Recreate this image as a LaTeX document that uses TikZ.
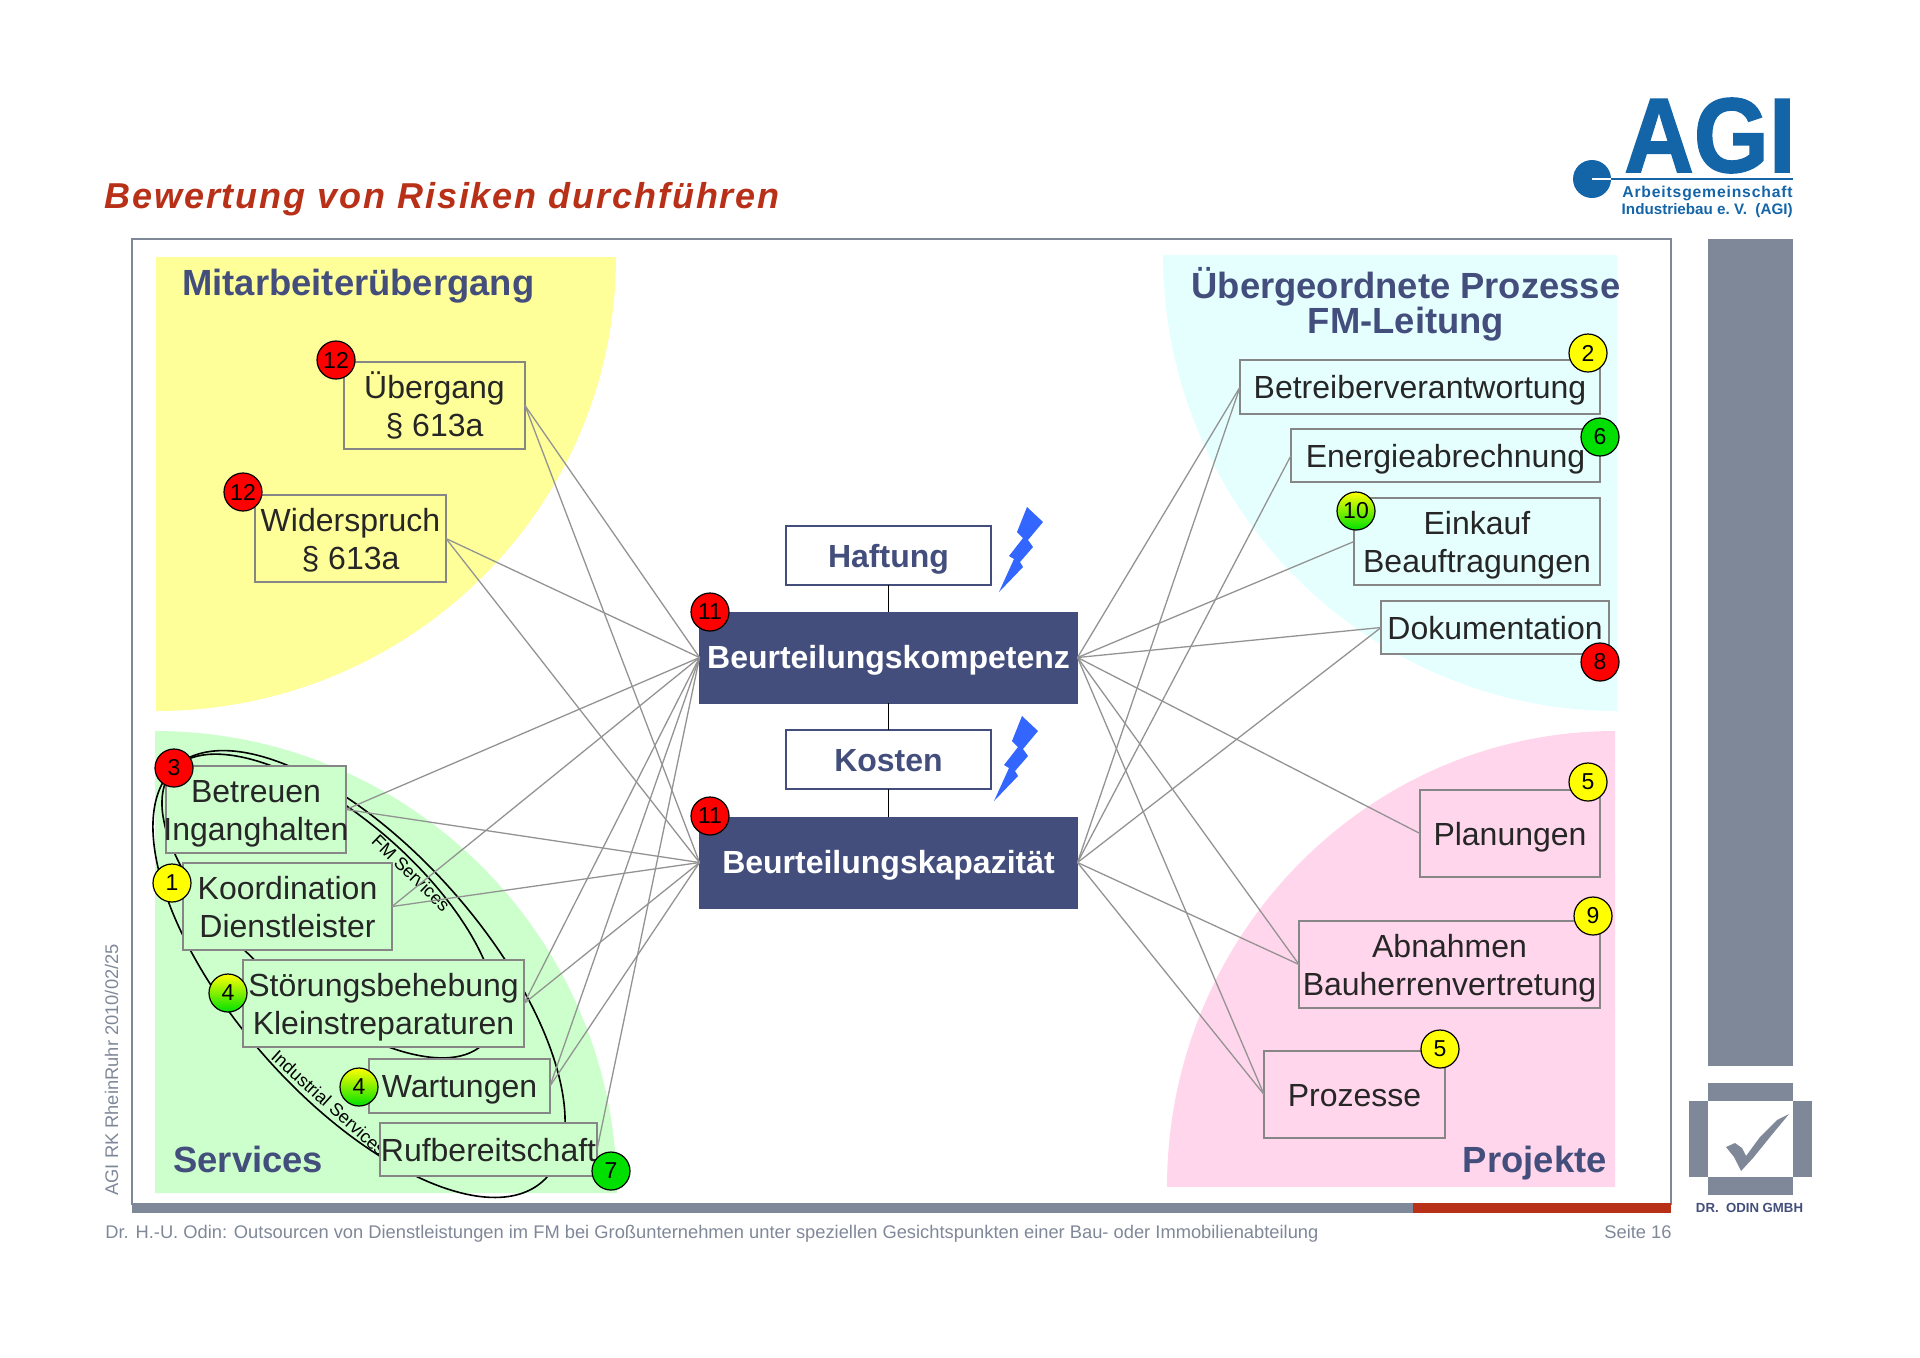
\documentclass[tikz,border=0pt]{standalone}
\usepackage{fontspec}
\setmainfont{Liberation Sans}
\newfontfamily\spacedfont[LetterSpace=5.3]{Liberation Sans}
\newfontfamily\agifont[FakeBold=1.5]{Liberation Sans Bold}
\usepackage{xcolor}
\usetikzlibrary{positioning,shapes.geometric}
\definecolor{navy}{HTML}{434E7C}
\definecolor{slate}{HTML}{7F8898}
\definecolor{agiblue}{HTML}{1464A8}
\definecolor{titlered}{HTML}{B83018}
\definecolor{blitzblue}{HTML}{3366FF}
\definecolor{areayellow}{HTML}{FFFF99}
\definecolor{areacyan}{HTML}{E5FFFF}
\definecolor{areagreen}{HTML}{CCFFCC}
\definecolor{areapink}{HTML}{FFD6EB}
\definecolor{signalred}{HTML}{FF0000}
\definecolor{signalyellow}{HTML}{FFFF00}
\definecolor{signalgreen}{HTML}{00E000}
\newcommand{\blitz}[1]{\fill[blitzblue,shift={#1}] (1027,507) -- (1043,522) -- (1028,540) -- (1033,547) -- (1020,562) -- (1023,567) -- (999,592) -- (1014,559) -- (1009,556) -- (1023,538) -- (1017,532) -- cycle;}

\begin{document}
\begin{tikzpicture}[
  x=0.5pt, y=-0.5pt,
  box/.style={draw=gray!95,line width=1pt,outer sep=0pt,inner sep=0pt,align=center,text=black!85,text height=14pt,text depth=2.5pt,font=\fontsize{16}{19}\selectfont},
  twolines/.style={box,text height=33pt,minimum height=43.5pt},
  hazard/.style={draw=navy,line width=1pt,fill=white,outer sep=0pt,minimum width=102.5pt,minimum height=29.5pt,inner sep=0pt,text=navy,text height=14pt,text depth=2.5pt,font=\fontsize{16}{19}\selectfont\bfseries},
  ability/.style={draw=navy,fill=navy,outer sep=0pt,minimum width=189pt,minimum height=45.5pt,inner sep=0pt,text=white,text height=13.5pt,text depth=3pt,font=\fontsize{16}{19}\selectfont\bfseries},
  head/.style={anchor=base west,inner sep=0pt,text=navy,font=\fontsize{18.2}{18}\selectfont\bfseries},
  badge/.style={circle,draw=black,line width=.6pt,minimum size=19pt,inner sep=0pt,text=black,font=\fontsize{11.5}{12}\selectfont},
  rbadge/.style={badge,fill=signalred},
  ybadge/.style={badge,fill=signalyellow},
  gbadge/.style={badge,fill=signalgreen},
  mbadge/.style={badge,top color=signalyellow,bottom color=signalgreen},
  link/.style={draw=gray!85,line width=.65pt},
  tie/.style={draw=black,line width=.7pt},
  scopeline/.style={ellipse,draw=black,line width=.8pt,inner sep=0pt},
  scopetext/.style={inner sep=0pt,font=\fontsize{9}{10}\selectfont},
  slab/.style={fill=slate,draw=none,inner sep=0pt,outer sep=0pt},
  small/.style={inner sep=0pt,text=slate,font=\fontsize{9.16}{10}\selectfont}
]
\useasboundingbox (0,0) rectangle (1920,1357);
% frame
\draw[slate,line width=1pt] (132,239) rectangle (1671,1204);
\fill[slate] (132,1203) rectangle (1413,1213);
\fill[titlered] (1413,1203) rectangle (1671,1213);
% quarter discs
\fill[areayellow] (156,257) -- (616,257) arc[start angle=0,end angle=-90,x radius=230pt,y radius=227pt] -- cycle;
\fill[areacyan] (1617,255) -- (1163,255) arc[start angle=180,end angle=270,x radius=227pt,y radius=228pt] -- cycle;
\fill[areagreen] (155,1193) -- (155,731) arc[start angle=90,end angle=0,radius=231pt] -- cycle;
\fill[areapink] (1615,1187) -- (1167,1187) arc[start angle=180,end angle=90,x radius=224pt,y radius=228pt] -- cycle;
% service groups
\node[scopeline,minimum width=277pt,minimum height=125pt,rotate=-48.5] (industrial) at (359,974) {};
\node[scopeline,minimum width=207pt,minimum height=90pt,rotate=-41] (fm) at (329,906) {};
\node[scopetext,rotate=-44] (fmtext) at (411,873) {FM Services};
\node[scopetext,rotate=-42] (indtext) at (329,1103) {Industrial Services};
% left boxes
\node[twolines,fill=areayellow,minimum width=90.5pt] (uebergang) at (434.5,405.5) {Übergang\\§ 613a};
\node[twolines,fill=areayellow,minimum width=95.5pt] (widerspruch) at (350.5,538.5) {Widerspruch\\§ 613a};
\node[twolines,fill=areagreen,minimum width=90pt] (betreuen) at (256,809.5) {Betreuen\\\makebox[0pt]{Inganghalten}};
\node[twolines,fill=areagreen,minimum width=104.5pt] (koordination) at (287.5,906.5) {Koordination\\Dienstleister};
\node[twolines,fill=areagreen,minimum width=140.5pt] (stoerung) at (383.5,1003.5) {Störungsbehebung\\Kleinstreparaturen};
\node[box,fill=areagreen,minimum width=90.5pt,minimum height=27pt] (wartungen) at (459.5,1086) {Wartungen};
\node[box,fill=areagreen,minimum width=108.5pt,minimum height=26.5pt] (rufbereitschaft) at (488.5,1149.5) {Rufbereitschaft};
% right boxes
\node[box,fill=areacyan,minimum width=180pt,minimum height=27pt] (betreiber) at (1420,387) {Betreiberverantwortung};
\node[box,fill=areacyan,minimum width=154.5pt,minimum height=26.5pt,below=7.5pt of betreiber.south east,anchor=north east] (energie) {Energieabrechnung};
\node[twolines,fill=areacyan,minimum width=123pt,below=8pt of energie.south east,anchor=north east] (einkauf) {Einkauf\\Beauftragungen};
\node[box,fill=areacyan,minimum width=114pt,minimum height=26.5pt] (dokumentation) at (1495,627.5) {Dokumentation};
\node[box,fill=areapink,minimum width=90pt,minimum height=43.5pt] (planungen) at (1510,833.5) {Planungen};
\node[twolines,fill=areapink,minimum width=150.5pt] (abnahmen) at (1449.5,964.5) {Abnahmen\\Bauherrenvertretung};
\node[box,fill=areapink,minimum width=90.5pt,minimum height=43.5pt] (prozesse) at (1354.5,1094.5) {Prozesse};
% centre column
\node[hazard] (haftung) at (888.5,555.5) {Haftung};
\node[ability,below=13.5pt of haftung] (kompetenz) {Beurteilungskompetenz};
\node[hazard,below=13.5pt of kompetenz] (kosten) {Kosten};
\node[ability,below=14pt of kosten] (kapazitaet) {Beurteilungskapazität};
\draw[tie] (haftung) -- (kompetenz);
\draw[tie] (kompetenz) -- (kosten);
\draw[tie] (kosten) -- (kapazitaet);
\blitz{(0,0)}
\blitz{(-5,209)}
% links
\draw[link] (uebergang.east) -- (kompetenz.west);
\draw[link] (uebergang.east) -- (kapazitaet.west);
\draw[link] (widerspruch.east) -- (kompetenz.west);
\draw[link] (widerspruch.east) -- (kapazitaet.west);
\draw[link] (betreuen.east) -- (kompetenz.west);
\draw[link] (betreuen.east) -- (kapazitaet.west);
\draw[link] (koordination.east) -- (kompetenz.west);
\draw[link] (koordination.east) -- (kapazitaet.west);
\draw[link] (stoerung.east) -- (kompetenz.west);
\draw[link] (stoerung.east) -- (kapazitaet.west);
\draw[link] (wartungen.east) -- (kompetenz.west);
\draw[link] (wartungen.east) -- (kapazitaet.west);
\draw[link] (rufbereitschaft.east) -- (kompetenz.west);
\draw[link] (kompetenz.east) -- (betreiber.west);
\draw[link] (kapazitaet.east) -- (betreiber.west);
\draw[link] (kapazitaet.east) -- (energie.west);
\draw[link] (kompetenz.east) -- (einkauf.west);
\draw[link] (kompetenz.east) -- (dokumentation.west);
\draw[link] (kapazitaet.east) -- (dokumentation.west);
\draw[link] (kompetenz.east) -- (planungen.west);
\draw[link] (kompetenz.east) -- (abnahmen.west);
\draw[link] (kapazitaet.east) -- (abnahmen.west);
\draw[link] (kompetenz.east) -- (prozesse.west);
\draw[link] (kapazitaet.east) -- (prozesse.west);
% badges
\node[rbadge] (b12a) at (336,360) {12};
\node[rbadge] (b12b) at (243,492) {12};
\node[rbadge] (b3) at (174,768) {3};
\node[ybadge] (b1) at (172,883) {1};
\node[mbadge] (b4a) at (228,993) {4};
\node[mbadge] (b4b) at (359,1087) {4};
\node[gbadge] (b7) at (611,1171) {7};
\node[rbadge] (b11a) at (710,612) {11};
\node[rbadge] (b11b) at (710,816) {11};
\node[ybadge] (b2) at (1588,353) {2};
\node[gbadge] (b6) at (1600,437) {6};
\node[mbadge] (b10) at (1356,511) {10};
\node[rbadge] (b8) at (1600,662) {8};
\node[ybadge] (b5a) at (1588,782) {5};
\node[ybadge] (b9) at (1593,916) {9};
\node[ybadge] (b5b) at (1440,1049) {5};
% headings
\node[head] (hmit) at (182,295) {Mitarbeiterübergang};
\node[head,anchor=base] (hueb) at (1406,298) {Übergeordnete Prozesse};
\node[head,anchor=base] (hfm) at (1406,333) {FM-Leitung};
\node[head] (hserv) at (173,1172) {Services};
\node[head,anchor=base east] (hproj) at (1607,1172) {Projekte};
\node[anchor=base west,inner sep=0pt,text=titlered,font=\fontsize{18}{20}\selectfont\spacedfont\bfseries\itshape] (title) at (104,208) {Bewertung von Risiken durchführen};
% footer
\node[small,anchor=base west] (foot) at (105,1238) {Dr. H.-U. Odin: Outsourcen von Dienstleistungen im FM bei Großunternehmen unter speziellen Gesichtspunkten einer Bau- oder Immobilienabteilung};
\node[small,anchor=base east] (seite) at (1672,1238) {Seite 16};
\node[small,rotate=90,anchor=base west] (stamp) at (118,1196) {AGI RK RheinRuhr 2010/02/25};
% Odin logo
\node[slab,minimum width=42.5pt,minimum height=413.5pt] (bar) at (1750.5,652.5) {};
\node[slab,minimum width=42.5pt,minimum height=9pt] (otop) at (1750.5,1092) {};
\node[slab,minimum width=9.5pt,minimum height=38pt] (oleft) at (1698.5,1139) {};
\node[slab,minimum width=9.5pt,minimum height=38pt] (oright) at (1802.5,1139) {};
\node[slab,minimum width=42.5pt,minimum height=9pt] (obot) at (1750.5,1186) {};
\fill[slate] (1726,1147) -- (1735,1143) -- (1742,1148) -- (1746,1156) -- (1760,1137) -- (1777,1120) -- (1789,1114) -- (1770,1137) -- (1753,1158) -- (1741,1171) -- (1734,1157) -- cycle;
\node[anchor=base,inner sep=0pt,text=navy,font=\fontsize{6.6}{8}\selectfont\bfseries] (odin) at (1749.5,1212) {DR.\ \ ODIN GMBH};
% AGI logo
\node[anchor=base east,inner sep=0pt,text=agiblue,font=\fontsize{53}{53}\selectfont\agifont] (agi) at (1796,172) {\scalebox{.91}[1]{AGI}};
\node[circle,fill=agiblue,minimum size=19pt,inner sep=0pt] (dot) at (1592,179) {};
\coordinate (lineend) at (1793,179);
\coordinate (slit) at (1611,179);
\draw[agiblue,line width=1.2pt] (slit) -- (lineend);
\draw[white,line width=1.2pt] (dot.center) -- (slit);
\node[anchor=base east,inner sep=0pt,text=agiblue,font=\fontsize{7.85}{8}\selectfont\spacedfont\bfseries] (agi1) at (1793,197) {Arbeitsgemeinschaft};
\node[anchor=base east,inner sep=0pt,text=agiblue,font=\fontsize{7.6}{8}\selectfont\bfseries] (agi2) at (1793,214) {Industriebau e.\ V.\ \ (AGI)};
\end{tikzpicture}
\end{document}
